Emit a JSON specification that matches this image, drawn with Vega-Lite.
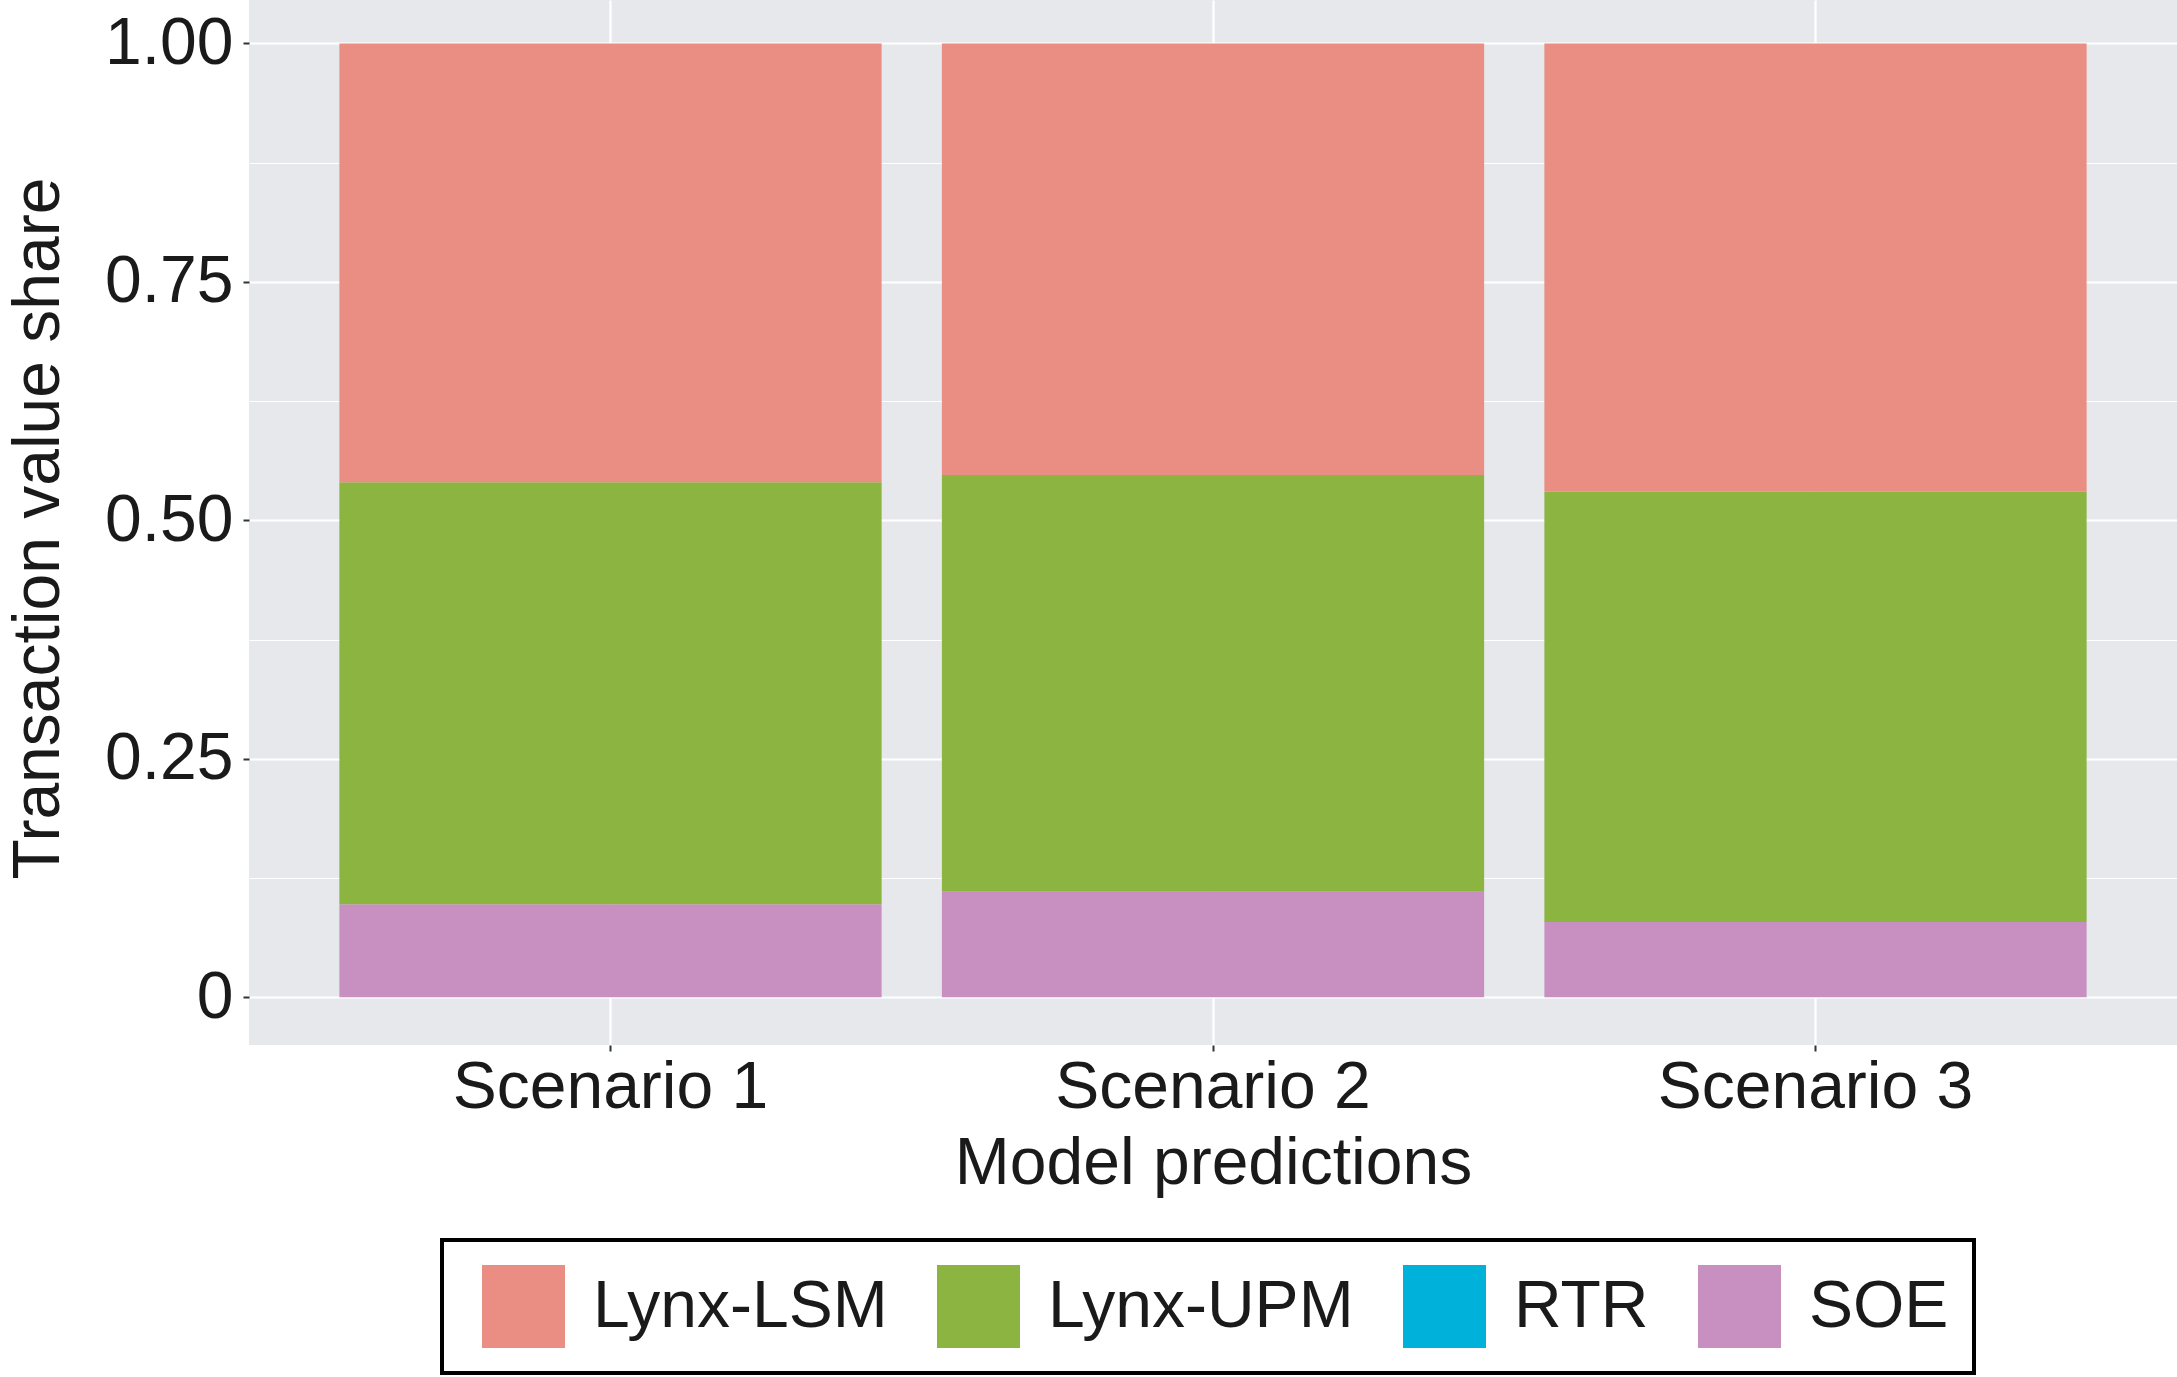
{
  "$schema": "https://vega.github.io/schema/vega-lite/v6.json",
  "width": 1928,
  "height": 1045,
  "autosize": {"type": "none"},
  "padding": {"left": 249, "top": 0, "right": 0, "bottom": 332},
  "background": "white",
  "config": {
    "view": {"fill": "#E7E8EB", "stroke": null},
    "font": "Liberation Sans"
  },
  "data": {
    "values": [
      {"Scenario": "Scenario 1", "Series": "SOE", "Share": 0.0975},
      {"Scenario": "Scenario 1", "Series": "Lynx-UPM", "Share": 0.4425},
      {"Scenario": "Scenario 1", "Series": "Lynx-LSM", "Share": 0.46},
      {"Scenario": "Scenario 2", "Series": "SOE", "Share": 0.1106},
      {"Scenario": "Scenario 2", "Series": "Lynx-UPM", "Share": 0.4371},
      {"Scenario": "Scenario 2", "Series": "Lynx-LSM", "Share": 0.4523},
      {"Scenario": "Scenario 3", "Series": "SOE", "Share": 0.079},
      {"Scenario": "Scenario 3", "Series": "Lynx-UPM", "Share": 0.451},
      {"Scenario": "Scenario 3", "Series": "Lynx-LSM", "Share": 0.47}
    ]
  },
  "mark": {"type": "bar"},
  "encoding": {
    "x": {
      "field": "Scenario",
      "type": "nominal",
      "scale": {"paddingInner": 0.1, "paddingOuter": 0.15},
      "axis": {
        "labelAngle": 0,
        "labelFontSize": 66,
        "labelColor": "#1a1a1a",
        "labelPadding": 4,
        "labelLimit": 0,
        "tickSize": 6,
        "tickWidth": 2,
        "tickColor": "#333333",
        "domain": false,
        "grid": true,
        "gridColor": "white",
        "gridWidth": 2.2,
        "bandPosition": 0.5,
        "title": "Model predictions",
        "titleFontSize": 66,
        "titleFontWeight": "normal",
        "titleColor": "#1a1a1a",
        "titleY": 138,
        "titleBaseline": "alphabetic"
      }
    },
    "y": {
      "field": "Share",
      "type": "quantitative",
      "stack": "zero",
      "scale": {"domain": [-0.05, 1.0456], "zero": false, "nice": false},
      "axis": {
        "values": [0, 0.125, 0.25, 0.375, 0.5, 0.625, 0.75, 0.875, 1],
        "labelExpr": "datum.value == 0 ? '0' : (datum.value == 0.25 || datum.value == 0.5 || datum.value == 0.75 || datum.value == 1 ? format(datum.value, '.2f') : '')",
        "labelOverlap": false,
        "labelFontSize": 66,
        "labelColor": "#1a1a1a",
        "labelPadding": 10,
        "grid": true,
        "gridColor": "white",
        "gridWidth": {"condition": {"test": "datum.value == 0 || datum.value == 0.25 || datum.value == 0.5 || datum.value == 0.75 || datum.value == 1", "value": 2.2}, "value": 1.1},
        "tickOpacity": {"condition": {"test": "datum.value == 0 || datum.value == 0.25 || datum.value == 0.5 || datum.value == 0.75 || datum.value == 1", "value": 1}, "value": 0},
        "tickSize": 6,
        "tickWidth": 2,
        "tickColor": "#333333",
        "domain": false,
        "title": "Transaction value share",
        "titleFontSize": 66,
        "titleFontWeight": "normal",
        "titleColor": "#1a1a1a",
        "titleAngle": -90,
        "titleAlign": "center",
        "titleBaseline": "alphabetic",
        "titleX": -191,
        "titleY": 528
      }
    },
    "color": {
      "field": "Series",
      "type": "nominal",
      "scale": {
        "domain": ["Lynx-LSM", "Lynx-UPM", "RTR", "SOE"],
        "range": ["#EA8D83", "#8BB440", "#00B2D9", "#C790C1"]
      },
      "legend": {
        "orient": "none",
        "legendX": 193,
        "legendY": 1240,
        "direction": "horizontal",
        "title": null,
        "strokeColor": "black",
        "padding": 25,
        "symbolType": "square",
        "symbolSize": 6889,
        "symbolStrokeWidth": 0,
        "symbolOpacity": 1,
        "symbolOffset": 15,
        "labelFontSize": 66,
        "labelOffset": 28,
        "labelLimit": 0,
        "columnPadding": 34,
        "labelColor": "#1a1a1a",
        "encode": {"legend": {"update": {"strokeWidth": {"value": 4}}}}
      }
    },
    "order": {"field": "Series", "sort": "descending"}
  }
}
